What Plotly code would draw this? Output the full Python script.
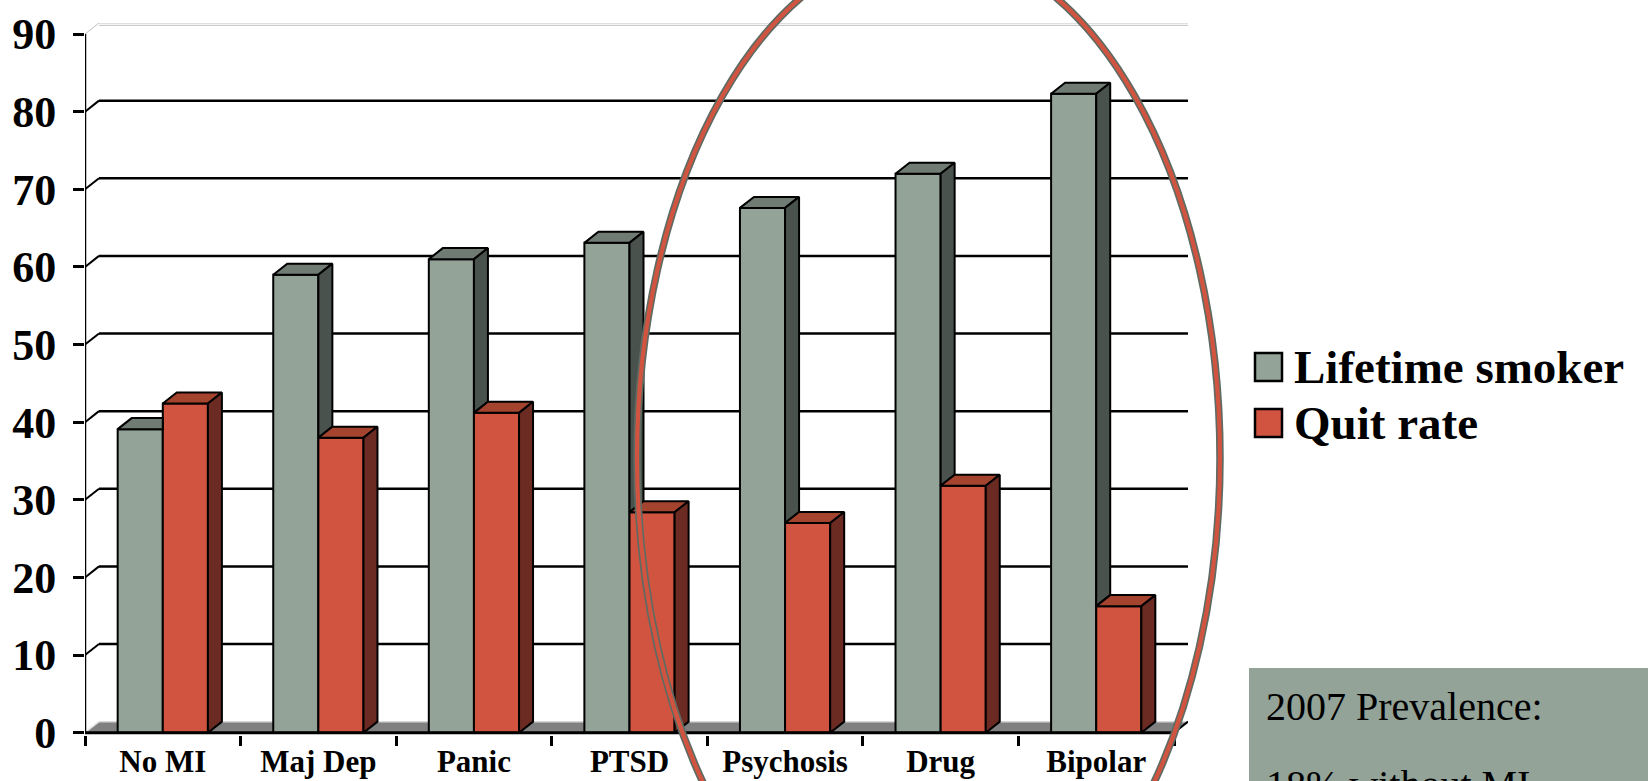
import plotly.graph_objects as go

# ---- data ----
categories = ["No MI", "Maj Dep", "Panic", "PTSD", "Psychosis", "Drug", "Bipolar"]
lifetime_smoker = [39.1, 59.0, 61.0, 63.1, 67.6, 72.0, 82.3]
quit_rate = [42.4, 38.0, 41.2, 28.4, 27.0, 31.8, 16.3]
y_tick_values = [0, 10, 20, 30, 40, 50, 60, 70, 80, 90]
series_names = ["Lifetime smoker", "Quit rate"]
box_lines = ["2007 Prevalence:", "18% without MI"]

# ---- style ----
W, H = 1648, 781
L, R, T, B = 85, 460, 23, 46
PW, PH = W - L - R, H - T - B
BAR_W = 0.29          # width of one bar in category units
DX, DY = 0.09, 1.42   # depth offset of the pseudo-3D faces (x units, y units)
Y_MAX = 90

GRAY = dict(front="#93A398", top="#6F7B73", side="#4A524D")
RED = dict(front="#D05440", top="#A4442F", side="#6B2A22")
SERIF = "Liberation Serif, Times New Roman, serif"

n = len(categories)
xs = list(range(n))
x_lo, x_hi = -0.5, n - 0.5


def px(x):
    return (x - L) / PW


def py(y):
    return (H - B - y) / PH


fig = go.Figure()

# front faces
fig.add_trace(go.Bar(x=xs, y=lifetime_smoker, width=BAR_W, offset=-BAR_W,
                     name=series_names[0], marker=dict(color=GRAY["front"], line=dict(color="black", width=2)),
                     hoverinfo="x+y"))
fig.add_trace(go.Bar(x=xs, y=quit_rate, width=BAR_W, offset=0,
                     name=series_names[1], marker=dict(color=RED["front"], line=dict(color="black", width=2)),
                     hoverinfo="x+y"))


def poly_trace(polys, color):
    px_, py_ = [], []
    for p in polys:
        for (a, b) in p:
            px_.append(a)
            py_.append(b)
        px_.append(p[0][0])
        py_.append(p[0][1])
        px_.append(None)
        py_.append(None)
    return go.Scatter(x=px_, y=py_, mode="lines", fill="toself", fillcolor=color,
                      line=dict(color="black", width=2), hoverinfo="skip", showlegend=False)


gray_tops, gray_sides, red_tops, red_sides = [], [], [], []
for c, g, r in zip(xs, lifetime_smoker, quit_rate):
    left = c - BAR_W
    if r > g:
        # right part of the top is hidden behind the taller neighbour
        gray_tops.append([(left, g), (left + DX, g + DY), (c, g + DY), (c, g)])
    else:
        gray_tops.append([(left, g), (left + DX, g + DY), (c + DX, g + DY), (c, g)])
        gray_sides.append([(c, r), (c, g), (c + DX, g + DY), (c + DX, r + DY)])
    right = c + BAR_W
    red_tops.append([(c, r), (c + DX, r + DY), (right + DX, r + DY), (right, r)])
    red_sides.append([(right, 0), (right, r), (right + DX, r + DY), (right + DX, DY)])

fig.add_trace(poly_trace(gray_tops, GRAY["top"]))
if gray_sides:
    fig.add_trace(poly_trace(gray_sides, GRAY["side"]))
fig.add_trace(poly_trace(red_tops, RED["top"]))
fig.add_trace(poly_trace(red_sides, RED["side"]))

shapes = []
# floor
shapes.append(dict(type="path", xref="x", yref="y", layer="below",
                   path=f"M {x_lo} 0 L {x_lo + DX} {DY} L {x_hi + DX} {DY} L {x_hi} 0 Z",
                   fillcolor="#808080", line=dict(width=0)))
shapes.append(dict(type="line", xref="x", yref="y", layer="below",
                   x0=x_lo + DX, y0=DY, x1=x_hi + DX, y1=DY, line=dict(color="#D8D8D8", width=1.5)))
# back-wall gridlines with their depth diagonals
for v in y_tick_values[1:-1]:
    shapes.append(dict(type="line", xref="x", yref="y", layer="below",
                       x0=x_lo + DX, y0=v + DY, x1=x_hi + DX, y1=v + DY,
                       line=dict(color="black", width=2.5)))
    shapes.append(dict(type="line", xref="x", yref="y", layer="below",
                       x0=x_lo, y0=v, x1=x_lo + DX, y1=v + DY,
                       line=dict(color="black", width=2)))
# top edge of the back wall
for off in (0, -0.3):
    shapes.append(dict(type="line", xref="x", yref="y", layer="below",
                       x0=x_lo + DX, y0=Y_MAX + DY + off, x1=x_hi + DX, y1=Y_MAX + DY + off,
                       line=dict(color="#C0C0C0", width=1)))
shapes.append(dict(type="line", xref="x", yref="y", layer="below",
                   x0=x_lo, y0=Y_MAX, x1=x_lo + DX, y1=Y_MAX + DY, line=dict(color="#C0C0C0", width=1)))
# front axes
shapes.append(dict(type="line", xref="x", yref="y", layer="above",
                   x0=x_lo, y0=0, x1=x_lo, y1=Y_MAX, line=dict(color="black", width=2.5)))
shapes.append(dict(type="line", xref="x", yref="y", layer="above",
                   x0=x_lo, y0=0, x1=x_hi, y1=0, line=dict(color="black", width=3)))
shapes.append(dict(type="line", xref="x", yref="y", layer="above",
                   x0=x_hi, y0=0, x1=x_hi + DX, y1=DY, line=dict(color="black", width=2)))
shapes.append(dict(type="line", xref="x", yref="y", layer="below",
                   x0=x_lo, y0=0, x1=x_lo + DX, y1=DY, line=dict(color="#E0E0E0", width=1.5)))

# legend swatches
for i, col in enumerate([GRAY["front"], RED["front"]]):
    y_top = 353 + i * 56
    shapes.append(dict(type="rect", xref="paper", yref="paper",
                       x0=px(1255), x1=px(1282), y0=py(y_top), y1=py(y_top + 28),
                       fillcolor=col, line=dict(color="black", width=2.5)))

# note box
shapes.append(dict(type="rect", xref="paper", yref="paper", layer="below",
                   x0=px(1249), x1=px(1660), y0=py(668), y1=py(795),
                   fillcolor="#93A398", line=dict(width=0)))

# highlight ellipse
shapes.append(dict(type="circle", xref="paper", yref="paper", layer="above",
                   x0=px(637), x1=px(1220), y0=py(-54), y1=py(970),
                   line=dict(color="#5E6B63", width=7.5)))
shapes.append(dict(type="circle", xref="paper", yref="paper", layer="above",
                   x0=px(637), x1=px(1220), y0=py(-54), y1=py(970),
                   line=dict(color="#D05440", width=4.2)))

annotations = []
for i, name in enumerate(series_names):
    annotations.append(dict(xref="paper", yref="paper", x=px(1292), y=py(367 + i * 56),
                            xanchor="left", yanchor="middle", showarrow=False,
                            text=f"<b>{name}</b>",
                            font=dict(family=SERIF, size=47, color="black")))
for i, line in enumerate(box_lines):
    annotations.append(dict(xref="paper", yref="paper", x=px(1264), y=py(706 + i * 78),
                            xanchor="left", yanchor="middle", showarrow=False,
                            text=line, font=dict(family=SERIF, size=40, color="black")))

fig.update_layout(
    width=W, height=H,
    margin=dict(l=L, r=R, t=T, b=B),
    paper_bgcolor="white", plot_bgcolor="white",
    showlegend=False,
    barmode="overlay",
    shapes=shapes,
    annotations=annotations,
    xaxis=dict(range=[x_lo, x_hi + DX], tickmode="array", tickvals=xs, ticktext=categories,
               ticks="", showgrid=False, zeroline=False, showline=False, automargin=False,
               tickfont=dict(family=SERIF, size=31, color="black", weight="bold"),
               ticklabelstandoff=5,
               minor=dict(tickmode="array", tickvals=[x_lo + k for k in range(n + 1)],
                          ticks="outside", ticklen=10, tickwidth=2.5, tickcolor="black", showgrid=False)),
    yaxis=dict(range=[-0.3, Y_MAX + DY], tickmode="array", tickvals=y_tick_values,
               ticks="outside", ticklen=11, tickwidth=2.5, tickcolor="black",
               showgrid=False, zeroline=False, showline=False, automargin=False,
               tickfont=dict(family=SERIF, size=44, color="black", weight="bold"),
               ticklabelstandoff=8),
)

fig.write_html("out.html")
